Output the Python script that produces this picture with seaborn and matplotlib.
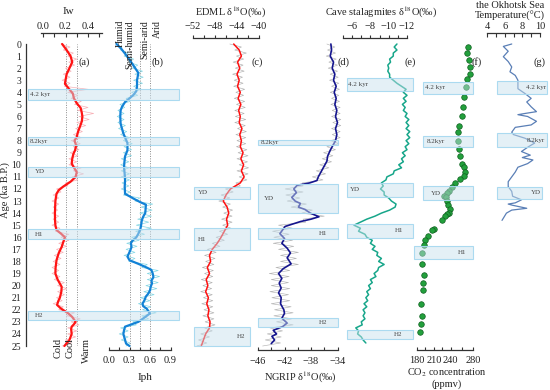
import numpy as np
import matplotlib
matplotlib.use("Agg")
import matplotlib.pyplot as plt
from matplotlib.patches import Rectangle
import seaborn as sns

# ---------------- data (age in ka B.P.) ----------------
grid = np.arange(0, 25.01, 0.25)          # sampling ages of the raw records

iw_age = [0.0, 0.5, 1.0, 1.5, 2.0, 2.5, 3.0, 3.3, 3.7, 4.1, 4.5, 4.9, 5.3, 5.7, 6.0, 6.4,
          6.8, 7.3, 7.7, 8.0, 8.4, 8.8, 9.1, 9.5, 9.9, 10.3, 10.6, 11.0, 11.4, 11.8, 12.1,
          12.4, 13.0, 13.5, 14.0, 14.6, 15.0, 15.4, 15.7, 16.0, 16.4, 16.8, 17.3, 17.9,
          18.5, 19.0, 19.5, 20.1, 20.5, 21.0, 21.3, 21.6, 21.9, 22.3, 22.6, 23.0, 23.2,
          23.4, 23.6, 24.0, 24.5, 25.0]
iw = [0.17, 0.21, 0.245, 0.26, 0.235, 0.21, 0.2, 0.195, 0.23, 0.265, 0.275, 0.30, 0.335,
      0.345, 0.35, 0.345, 0.33, 0.31, 0.30, 0.28, 0.295, 0.285, 0.27, 0.26, 0.255, 0.28,
      0.30, 0.29, 0.245, 0.18, 0.14, 0.12, 0.11, 0.108, 0.106, 0.107, 0.11, 0.12, 0.16,
      0.195, 0.18, 0.166, 0.14, 0.12, 0.112, 0.11, 0.13, 0.166, 0.163, 0.15, 0.135, 0.125,
      0.16, 0.225, 0.26, 0.29, 0.275, 0.255, 0.25, 0.255, 0.235, 0.19]
iw_raw = [0.16, 0.24, 0.18, 0.27, 0.22, 0.30, 0.23, 0.28, 0.20, 0.25, 0.18, 0.24, 0.17, 0.24,
          0.19, 0.40, 0.22, 0.31, 0.25, 0.34, 0.28, 0.40, 0.31, 0.45, 0.32, 0.41, 0.30, 0.38,
          0.29, 0.35, 0.27, 0.34, 0.25, 0.33, 0.27, 0.32, 0.24, 0.31, 0.23, 0.30, 0.23, 0.34,
          0.27, 0.36, 0.26, 0.31, 0.20, 0.22, 0.12, 0.16, 0.09, 0.14, 0.08, 0.14, 0.09, 0.13,
          0.08, 0.14, 0.09, 0.14, 0.08, 0.15, 0.11, 0.23, 0.16, 0.23, 0.14, 0.21, 0.12, 0.18,
          0.10, 0.16, 0.09, 0.15, 0.08, 0.14, 0.08, 0.15, 0.10, 0.19, 0.13, 0.21, 0.13, 0.19,
          0.12, 0.17, 0.09, 0.18, 0.14, 0.28, 0.21, 0.33, 0.25, 0.32, 0.22, 0.30, 0.22, 0.29,
          0.20, 0.25, 0.17]

iph_age = [0.0, 0.4, 0.8, 1.3, 1.8, 2.4, 3.0, 3.5, 3.9, 4.2, 4.5, 4.8, 5.2, 5.5, 6.0, 6.6,
           7.0, 7.4, 7.8, 8.2, 8.8, 9.3, 9.8, 10.2, 10.8, 11.3, 11.8, 12.4, 12.8, 13.1, 13.3,
           13.7, 14.0, 14.3, 14.6, 15.0, 15.3, 15.7, 16.0, 16.3, 16.5, 16.8, 17.1, 17.6, 17.9,
           18.2, 18.5, 18.7, 19.0, 19.3, 19.6, 19.8, 20.1, 20.4, 20.7, 20.9, 21.2, 21.5, 21.7,
           21.9, 22.3, 22.6, 23.0, 23.4, 23.7, 24.0, 24.4, 24.8, 25.0]
iph = [0.11, 0.18, 0.235, 0.30, 0.36, 0.43, 0.41, 0.41, 0.40, 0.36, 0.30, 0.235, 0.19, 0.17,
       0.165, 0.17, 0.19, 0.21, 0.24, 0.27, 0.27, 0.235, 0.225, 0.22, 0.23, 0.235, 0.23,
       0.235, 0.36, 0.46, 0.54, 0.535, 0.53, 0.50, 0.48, 0.47, 0.46, 0.43, 0.40, 0.34, 0.32,
       0.33, 0.31, 0.27, 0.30, 0.43, 0.55, 0.62, 0.64, 0.65, 0.62, 0.63, 0.61, 0.60, 0.57,
       0.54, 0.52, 0.49, 0.50, 0.55, 0.60, 0.53, 0.43, 0.235, 0.22, 0.21, 0.23, 0.25, 0.30]
iph_raw = [0.10, 0.19, 0.17, 0.28, 0.22, 0.36, 0.29, 0.42, 0.34, 0.49, 0.38, 0.50, 0.36, 0.49,
           0.36, 0.47, 0.33, 0.42, 0.25, 0.31, 0.16, 0.23, 0.13, 0.22, 0.12, 0.22, 0.13, 0.24,
           0.14, 0.26, 0.17, 0.30, 0.21, 0.34, 0.22, 0.33, 0.21, 0.33, 0.18, 0.29, 0.17, 0.29,
           0.18, 0.30, 0.18, 0.30, 0.19, 0.29, 0.18, 0.31, 0.21, 0.45, 0.38, 0.64, 0.47, 0.63,
           0.45, 0.62, 0.42, 0.58, 0.40, 0.62, 0.39, 0.52, 0.33, 0.44, 0.26, 0.41, 0.25, 0.38,
           0.22, 0.38, 0.29, 0.56, 0.48, 0.72, 0.56, 0.74, 0.56, 0.72, 0.54, 0.70, 0.51, 0.66,
           0.46, 0.60, 0.43, 0.61, 0.49, 0.69, 0.48, 0.58, 0.35, 0.40, 0.17, 0.28, 0.15, 0.28,
           0.18, 0.31, 0.25]

edml_age = [0.0, 0.5, 1.0, 1.5, 2.0, 2.5, 3.0, 3.5, 4.0, 4.5, 5.0, 5.5, 6.0, 6.5, 7.0, 7.5,
            8.0, 8.5, 9.0, 9.5, 10.0, 10.5, 11.0, 11.5, 12.0, 12.5, 13.0, 13.5, 14.0, 14.5,
            15.0, 15.5, 16.0, 16.5, 17.0, 17.5, 18.0, 18.5, 19.0, 19.5, 20.0, 20.5, 21.0,
            21.5, 22.0, 22.5, 23.0, 23.5, 24.0, 24.5, 25.0]
edml = [-44.6, -43.6, -43.2, -43.9, -43.5, -44.0, -43.6, -43.9, -43.4, -43.8, -43.3, -43.7,
        -43.4, -43.6, -43.1, -43.5, -43.2, -43.4, -42.9, -43.3, -42.8, -43.2, -42.7, -43.4,
        -45.2, -46.0, -46.5, -45.8, -45.5, -45.9, -45.7, -46.3, -46.9, -47.6, -48.5, -49.0,
        -48.8, -49.4, -49.0, -49.6, -49.3, -49.7, -49.2, -49.5, -49.1, -49.3, -48.9, -49.0,
        -49.7, -50.1, -50.5]
edml_raw = [-45.3, -43.2, -44.4, -42.3, -44.1, -42.8, -44.7, -42.9, -44.3, -42.7, -44.8, -43.0,
            -44.5, -42.9, -44.6, -42.6, -44.2, -42.8, -44.5, -42.6, -44.1, -42.5, -44.4, -42.7,
            -44.3, -42.4, -44.4, -42.5, -43.9, -42.3, -44.2, -42.4, -44.0, -42.4, -44.1, -42.2,
            -43.8, -42.0, -44.0, -42.1, -43.6, -41.9, -44.0, -42.0, -43.6, -42.2, -44.2, -43.4,
            -46.1, -44.7, -46.9, -45.3, -47.3, -45.2, -46.6, -44.8, -46.4, -44.9, -46.8, -44.9,
            -46.6, -45.1, -47.2, -45.7, -47.8, -46.3, -48.5, -47.1, -49.4, -47.8, -49.9, -48.0,
            -49.7, -48.2, -50.3, -48.3, -49.9, -48.4, -50.5, -48.5, -50.2, -48.6, -50.6, -48.5,
            -50.1, -48.4, -50.4, -48.4, -50.0, -48.2, -50.2, -48.2, -49.8, -48.0, -49.9, -48.5,
            -50.6, -49.0, -51.0, -49.5, -51.3]

ngrip_age = [0, 0.5, 1, 1.5, 2, 2.5, 3, 3.5, 4, 4.5, 5, 5.5, 6, 6.5, 7, 7.5, 8, 8.3, 8.8, 9.3,
             9.7, 10.2, 10.7, 11.0, 11.3, 11.5, 11.7, 12.0, 12.3, 12.7, 13.0, 13.2, 13.5, 13.7,
             14.0, 14.3, 14.5, 14.7, 15.1, 15.4, 15.7, 16.1, 16.5, 16.9, 17.3, 17.7, 18.2,
             18.6, 19.0, 19.4, 19.8, 20.2, 20.6, 21.0, 21.5, 22.0, 22.3, 22.7, 23.1, 23.4,
             23.7, 24.0, 24.2, 24.5, 24.8]
ngrip = [-35.0, -34.9, -35.1, -34.6, -34.8, -34.4, -34.6, -34.2, -34.5, -34.2, -34.4, -34.1,
         -34.3, -34.0, -34.3, -34.1, -34.3, -34.6, -35.1, -35.5, -35.6, -36.1, -36.6, -36.9,
         -37.1, -38.2, -40.1, -40.6, -40.2, -40.9, -40.4, -39.6, -39.9, -38.9, -38.1, -36.8,
         -38.0, -39.6, -41.9, -42.3, -42.7, -42.0, -42.4, -41.6, -41.1, -41.6, -41.0, -42.2,
         -42.9, -42.4, -42.8, -42.5, -42.9, -42.5, -42.6, -42.1, -42.0, -42.4, -41.6, -42.3,
         -43.7, -43.2, -43.9, -43.5, -44.0]
ngrip_raw = [-35.6, -34.4, -35.5, -34.3, -35.7, -34.2, -35.3, -34.0, -35.4, -34.0, -35.1, -33.9,
             -35.2, -33.8, -34.9, -33.7, -35.1, -33.8, -34.9, -33.7, -35.0, -33.6, -34.8, -33.6,
             -34.9, -33.5, -34.7, -33.5, -34.9, -33.6, -34.8, -33.6, -35.0, -33.8, -35.6, -34.3,
             -36.1, -34.7, -36.3, -34.9, -36.7, -35.3, -37.2, -35.8, -37.8, -36.2, -39.3, -39.2,
             -41.9, -39.2, -41.8, -39.7, -41.6, -38.7, -41.0, -37.8, -39.4, -36.0, -39.2, -38.8,
             -42.9, -40.8, -43.8, -41.3, -43.6, -40.8, -43.7, -40.6, -42.9, -39.9, -42.6, -40.2,
             -42.6, -39.9, -43.3, -41.2, -44.3, -41.3, -44.0, -41.4, -44.0, -41.2, -44.2, -41.4,
             -43.9, -41.2, -44.0, -41.0, -43.5, -40.7, -43.6, -40.9, -43.2, -40.7, -44.2, -42.3,
             -44.6, -42.5, -44.9, -42.6, -45.3]

cave = [-10.9, -10.6, -10.9, -10.5, -10.5, -10.1, -10.2, -9.9, -10.0, -9.9, -10.1, -10.1,
        -10.5, -10.9, -11.4, -11.9, -11.6, -12.0, -11.6, -11.9, -11.5, -11.8, -11.6, -12.0,
        -11.8, -12.2, -11.9, -12.2, -11.9, -12.3, -12.0, -12.3, -11.9, -12.2, -11.8, -12.0,
        -11.5, -11.8, -11.4, -11.6, -11.1, -11.4, -10.6, -10.5, -9.8, -9.7, -9.2, -9.4, -9.1,
        -9.5, -9.5, -10.0, -10.3, -10.8, -10.7, -10.1, -9.2, -8.5, -7.6, -6.9, -6.2, -6.9,
        -6.7, -7.4, -7.6, -8.2, -8.0, -8.5, -8.2, -8.8, -8.7, -9.2, -8.9, -9.5, -8.9, -8.8,
        -8.4, -8.6, -8.0, -8.2, -7.8, -8.0, -7.6, -7.8, -7.5, -7.7, -7.3, -7.6, -7.2, -7.4,
        -7.2, -7.4, -7.0, -7.1, -6.4, -6.7, -6.6, -7.0, -7.2, -7.5]
cave_age = grid[:len(cave)]

co2_age = [0.28, 0.77, 1.33, 1.88, 2.5, 2.9, 3.6, 4.4, 5.2, 6.0, 6.8, 7.3, 8.0, 8.7, 9.3, 9.9,
           10.2, 10.6, 10.9, 11.2, 11.5, 11.8, 12.2, 12.3, 12.6, 12.65, 13.0, 13.3, 13.7, 14.0,
           14.1, 14.2, 14.6, 15.3, 15.4, 15.9, 16.2, 16.6, 17.3, 18.2, 19.1, 19.8, 20.4, 21.5,
           22.5, 23.2, 23.8]
co2 = [270.5, 270, 273, 274.6, 274.9, 269.9, 267, 264.5, 262.7, 259.8, 255.6, 253.8, 252.6,
       254.4, 256.8, 260.9, 263.4, 265.7, 263.4, 256.8, 247.9, 242, 237, 233, 228.8, 231.8,
       233, 234.8, 238.9, 237, 233, 230, 224, 210.9, 207.4, 199, 194.9, 192.5, 188.3, 188.3,
       192.5, 191.5, 190.2, 187.1, 189.5, 187.1, 185.4]

sst_age = [0.0, 0.2, 0.6, 1.05, 1.45, 1.9, 2.3, 2.6, 3.0, 3.7, 4.1, 4.5, 4.8, 5.2, 5.6, 5.75,
           5.85, 6.0, 6.4, 6.7, 6.9, 7.3, 7.5, 7.8, 8.2, 8.5, 8.9, 9.2, 9.4, 9.6, 9.9, 10.2,
           10.6, 11.0, 11.4, 11.8, 12.2, 12.6, 12.9, 13.15, 13.25, 13.35, 13.6, 13.75, 14.0, 14.6]
sst = [6.8, 5.85, 6.4, 5.85, 6.4, 6.8, 6.6, 7.2, 7.5, 7.5, 8.3, 9.0, 8.5, 9.0, 9.6, 8.3, 7.5,
       8.6, 9.6, 9.0, 7.2, 6.8, 7.0, 8.3, 9.4, 8.7, 7.9, 8.9, 8.0, 9.2, 8.6, 7.5, 7.2, 6.8, 6.4,
       6.4, 6.8, 6.9, 7.9, 7.2, 6.4, 6.9, 8.5, 6.8, 6.2, 5.7]

# climate events per panel: (label, start ka, end ka)
ev_ab = [("4.2 kyr", 3.7, 4.6), ("8.2kyr", 7.7, 8.4), ("YD", 10.15, 11.0),
         ("H1", 15.35, 16.15), ("H2", 22.1, 22.85)]
ev_c = [("YD", 11.8, 12.85), ("H1", 15.25, 17.05), ("H2", 23.45, 25.0)]
ev_d = [("8.2kyr", 7.95, 8.35), ("YD", 11.6, 14.0), ("H1", 15.2, 16.15), ("H2", 22.65, 23.4)]
ev_e = [("4.2 kyr", 2.85, 3.85), ("YD", 11.5, 12.65), ("H1", 14.9, 16.05), ("H2", 23.7, 24.45)]
ev_f = [("4.2 kyr", 3.15, 4.1), ("8.2kyr", 7.6, 8.55), ("YD", 11.75, 12.95), ("H1", 16.7, 17.8)]
ev_g = [("4.2 kyr", 3.1, 4.15), ("8.2kyr", 7.4, 8.55), ("YD", 11.8, 12.85)]

# ---------------- layout helpers (pixels of a 550x390 canvas) ----------------
sns.set_theme(style="white")
plt.rcParams["font.family"] = ["Liberation Serif", "DejaVu Serif"]
plt.rcParams["mathtext.fontset"] = "stix"

W, H = 550, 390
TOP, BOT = 44, 346      # pixel rows of 0 ka and 25 ka
PT = 0.72               # points per pixel at 100 dpi
INK = "#333333"

fig = plt.figure(figsize=(5.5, 3.9), dpi=100)


def txt(x, y, s, size=7.5, **kw):
    kw.setdefault("ha", "center")
    kw.setdefault("va", "center")
    fig.text(x / W, 1 - y / H, s, fontsize=size, color=kw.pop("color", "#222222"), **kw)


def panel(x0, x1, major, labels, minor, side, off, pad, direction):
    ax = fig.add_axes([x0 / W, 1 - BOT / H, (x1 - x0) / W, (BOT - TOP) / H])
    ax.patch.set_alpha(0)
    for s in ax.spines.values():
        s.set_visible(False)
    sp = ax.spines[side]
    sp.set_visible(True)
    sp.set_position(("outward", off * PT))
    sp.set_color(INK)
    sp.set_linewidth(0.9)
    if side == "top":
        ax.xaxis.tick_top()
    else:
        ax.xaxis.tick_bottom()
    ax.set_xticks(major)
    ax.set_xticklabels(labels)
    ax.set_xticks(minor, minor=True)
    ax.tick_params(axis="x", which="both", direction=direction, length=3.5 * PT, width=0.8,
                   color=INK, labelsize=7.5, pad=pad, labelcolor="#222222")
    ax.set_yticks([])
    return ax


def finish(ax, xlim):
    ax.set_xlim(*xlim)
    ax.set_ylim(25, 0)
    ax.set_xlabel("")
    ax.set_ylabel("")


def line(ax, x, y, color, lw):
    sns.lineplot(x=x, y=y, ax=ax, orient="y", sort=False, estimator=None,
                 color=color, linewidth=lw, clip_on=False)


M = "\u2212"

# age axis
ax_age = fig.add_axes([25.5 / W, 1 - BOT / H, 1 / W, (BOT - TOP) / H])
ax_age.patch.set_alpha(0)
for k, s in ax_age.spines.items():
    s.set_visible(k == "left")
ax_age.spines["left"].set_color(INK)
ax_age.spines["left"].set_linewidth(0.9)
ax_age.set_ylim(25, 0)
ax_age.set_yticks(range(0, 26))
ax_age.set_yticks(np.arange(0.5, 25, 1.0), minor=True)
ax_age.set_xticks([])
ax_age.tick_params(axis="y", which="major", direction="out", length=3 * PT, width=0.8,
                   color=INK, labelsize=7, pad=0.8, labelcolor="#222222")
ax_age.tick_params(axis="y", which="minor", direction="out", length=1.8 * PT, width=0.6,
                   color=INK)
txt(5, 190, "Age (ka B.P.)", size=7.5, rotation=90)

# (a) Iw
ax = panel(40.75, 101.5, [0, 0.2, 0.4], ["0.0", "0.2", "0.4"], [0.1, 0.3, 0.5],
           "top", 11, 1.2, "in")
for v in (0.2, 0.3):
    ax.axvline(v, color="#8a8a8a", lw=0.7, ls=(0, (1, 1.5)))
line(ax, iw_raw, grid, "#f7b0b6", 0.5)
line(ax, iw, iw_age, "#ff1414", 1.6)
finish(ax, (-0.02, 0.52))
txt(68, 12, "Iw", size=8)
txt(84, 62, "(a)")
for x, s in ((58, "Cold"), (70, "Cool"), (86, "Warm")):
    txt(x, 338, s, rotation=90, va="top")

# (b) Iph
ax = panel(109, 170.5, [0, 0.3, 0.6, 0.9], ["0.0", "0.3", "0.6", "0.9"],
           [0.15, 0.45, 0.75], "bottom", 4, 4.5, "in")
for v in (0.3, 0.45, 0.6):
    ax.axvline(v, color="#8a8a8a", lw=0.7, ls=(0, (1, 1.5)))
line(ax, iph_raw, grid, "#84d6e4", 0.5)
line(ax, iph, iph_age, "#1382d6", 1.6)
finish(ax, (0, 0.9))
txt(145, 377, "Iph", size=8)
txt(157, 62, "(b)")
for x, s in ((120, "Humid"), (130, "Semi-humid"), (145, "Semi-arid"), (157, "Arid")):
    txt(x, 20, s, size=7, rotation=90, va="top")

# (c) EDML
ax = panel(193, 259, [-52, -48, -44, -40], [M + "52", M + "48", M + "44", M + "40"],
           [-50, -46, -42], "top", 6, 2.5, "out")
line(ax, edml_raw, grid, "#b0b0b0", 0.45)
line(ax, edml, edml_age, "#ff1010", 1.1)
finish(ax, (-52, -40))
txt(231, 12, "EDML δ$^{18}$O(‰)")
txt(257, 62, "(c)")

# (d) NGRIP
ax = panel(258, 337.5, [-46, -42, -38, -34], [M + "46", M + "42", M + "38", M + "34"],
           [-44, -40, -36], "bottom", 4, 5, "in")
line(ax, ngrip_raw, grid, "#b4b4b4", 0.45)
line(ax, ngrip, ngrip_age, "#15158e", 1.2)
finish(ax, (-46, -34))
txt(300, 377, "NGRIP δ$^{18}$O(‰)")
txt(343, 62, "(d)")

# (e) cave stalagmites
ax = panel(343, 407, [-6, -8, -10, -12], [M + "6", M + "8", M + "10", M + "12"],
           [-5, -7, -9, -11], "top", 6, 2.5, "out")
line(ax, cave, cave_age, "#17a68a", 1.1)
finish(ax, (-5, -12))
txt(381, 12, "Cave stalagmites δ$^{18}$O(‰)")
txt(410, 62, "(e)")

# (f) CO2
ax = panel(417, 473, [180, 210, 240, 280], ["180", "210", "240", "280"],
           [195, 225, 260], "bottom", 4, 4.5, "in")
sns.scatterplot(x=co2, y=co2_age, ax=ax, s=16, color="#22a03c", edgecolor="#0f5f20",
                linewidth=0.5, clip_on=False, zorder=3)
finish(ax, (180, 280))
txt(447, 373, "CO$_2$ concentration")
txt(447, 384, "(ppmv)")
txt(477, 62, "(f)")

# (g) Okhotsk Sea SST
ax = panel(487, 540, [4, 6, 8, 10], ["4", "6", "8", "10"], [5, 7, 9], "top", 11, 1.2, "in")
line(ax, sst, sst_age, "#5a7fb6", 0.9)
finish(ax, (4, 10))
txt(510, 6, "the Okhotsk Sea")
txt(510, 16, "Temperature(°C)")
txt(539, 62, "(g)")

# event boxes drawn on top of the records
ov = fig.add_axes([0, 1 - BOT / H, 1, (BOT - TOP) / H])
ov.set_xlim(0, W)
ov.set_ylim(25, 0)
ov.axis("off")
ov.set_zorder(20)

# (x0, x1, label x, label alignment) for each event of each panel
layout = [
    (ev_ab, [(28, 178.5, 30, "left"), (28, 178.5, 30, "left"), (28, 178.5, 35, "left"),
             (28, 178.5, 35, "left"), (28, 178.5, 35, "left")]),
    (ev_c, [(193.5, 250, 198, "left"), (193.5, 250, 198, "left"), (193.5, 250, 245, "right")]),
    (ev_d, [(258, 337.5, 261, "left"), (258, 337.5, 264, "left"), (258, 337.5, 319, "left"),
            (258, 337.5, 319, "left")]),
    (ev_e, [(347, 412.5, 348, "left"), (347, 412.5, 350, "left"), (347, 412.5, 395, "left"),
            (347, 412.5, 394, "left")]),
    (ev_f, [(423, 472.5, 425, "left"), (423, 472.5, 427, "left"), (423, 472.5, 431, "left"),
            (414, 472.5, 458, "left")]),
    (ev_g, [(497, 546.5, 546, "right"), (497, 546.5, 545, "right"), (497, 541.5, 541, "right")]),
]
for events, pos in layout:
    for (name, a0, a1), (x0, x1, lx, ha) in zip(events, pos):
        ov.add_patch(Rectangle((x0, a0), x1 - x0, a1 - a0, facecolor=(0.78, 0.88, 0.93, 0.48),
                               edgecolor=(0.66, 0.85, 0.94, 0.95), linewidth=0.8,
                               clip_on=False))
        ov.text(lx, (a0 + a1) / 2, name, fontsize=5, color="#444444", ha=ha, va="center")

fig.savefig("out.png", dpi=100)
